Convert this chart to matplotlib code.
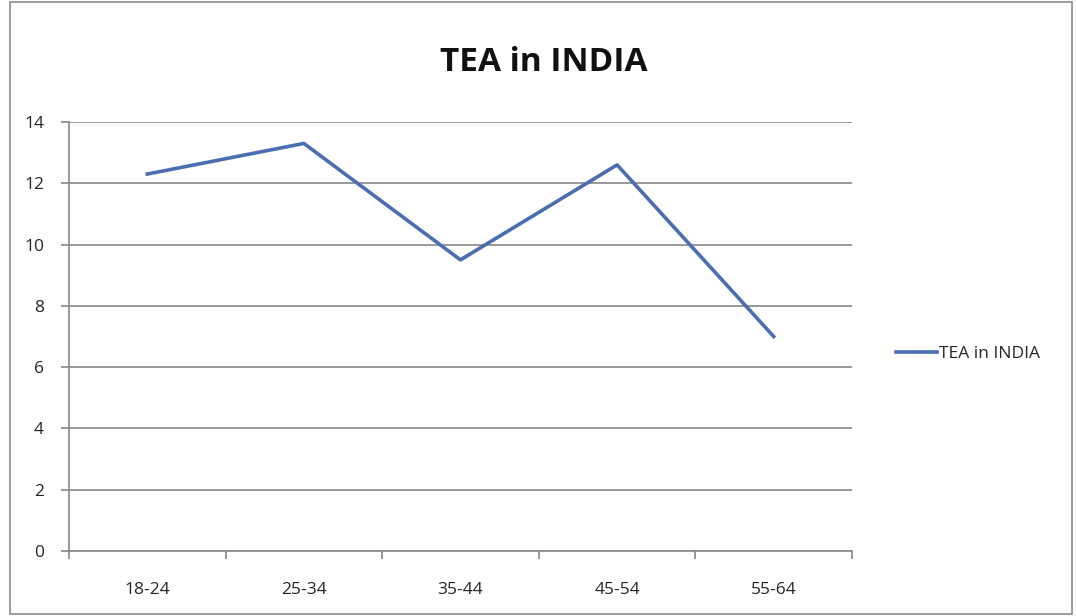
import matplotlib
matplotlib.use("Agg")
import matplotlib.pyplot as plt
from matplotlib.patches import Rectangle
import numpy as np

# данные
age_groups = ["18-24", "25-34", "35-44", "45-54", "55-64"]
tea_values = [12.3, 13.3, 9.5, 12.6, 7.0]
y_ticks = [0, 2, 4, 6, 8, 10, 12, 14]
series_name = "TEA in INDIA"
title = "TEA in INDIA"

plt.rcParams["font.family"] = ["Open Sans", "DejaVu Sans"]
GRID = "#878787"
LINE = "#4a6eb0"
TXT = "#262626"

fig = plt.figure(figsize=(10.76, 6.16), dpi=100)
fig.patches.append(Rectangle((0.009, 0.004), 0.987, 0.992, transform=fig.transFigure,
                             fill=False, edgecolor="#8c8c8c", lw=1.2))
ax = fig.add_axes([0.0641, 0.1055, 0.7277, 0.6965])

x = np.arange(len(age_groups))
ax.plot(x, tea_values, color=LINE, lw=2.6, label=series_name)

ax.set_xlim(-0.5, len(age_groups) - 0.5)
ax.set_ylim(0, 14)
ax.set_yticks(y_ticks)
ax.set_yticklabels([str(v) for v in y_ticks], fontsize=12.5, color=TXT)
ax.set_xticks(x)
ax.set_xticklabels(age_groups, fontsize=12.5, color=TXT)
ax.set_xticks(np.arange(-0.5, len(age_groups)), minor=True)
ax.tick_params(axis="x", which="major", length=0, pad=22)
ax.tick_params(axis="x", which="minor", length=6, direction="out", color=GRID, width=1.2)
ax.tick_params(axis="y", length=6, direction="out", color=GRID, width=1.2, pad=12)
ax.yaxis.grid(True, color=GRID, lw=1.2)
ax.set_axisbelow(True)
for s in ["top", "right"]:
    ax.spines[s].set_visible(False)
for s in ["left", "bottom"]:
    ax.spines[s].set_color(GRID)
    ax.spines[s].set_linewidth(1.2)

fig.text(0.505, 0.898, title, ha="center", va="center", fontsize=24, fontweight="bold", color="#111111")
leg = fig.legend(loc="center left", bbox_to_anchor=(0.818, 0.425), frameon=False, fontsize=12.5,
                 handlelength=2.4, handletextpad=0.1)
for t in leg.get_texts():
    t.set_color(TXT)

fig.savefig("out.png", dpi=100)
